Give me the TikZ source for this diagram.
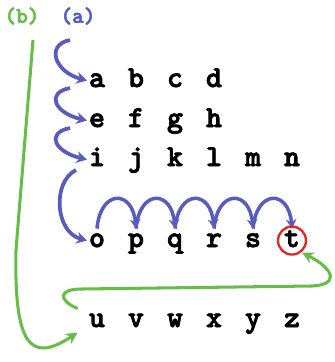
\documentclass[tikz,border=0pt]{standalone}
\usepackage{fontspec}
\setmonofont{lmmonolt10-regular.otf}[BoldFont=lmmonolt10-bold.otf, BoldFeatures={FakeBold=2.5}]
\usepackage{tikz}
\usetikzlibrary{arrows.meta}

\definecolor{hookblue}{RGB}{88,92,190}
\definecolor{pathgreen}{RGB}{102,190,70}
\definecolor{ringred}{RGB}{222,40,40}

\tikzset{
	letter/.style={anchor=base, inner sep=1.5pt, text height=14pt, text depth=3pt,
		font=\ttfamily\bfseries\fontsize{26}{28}\selectfont},
	tag/.style={font=\ttfamily\bfseries\fontsize{19}{21}\selectfont},
	hook/.style={hookblue, line width=3.2pt, -{Stealth[length=9pt,width=10pt]}},
	hop/.style={hookblue, line width=3pt, -{Stealth[length=8pt,width=9pt]}},
	walk/.style={pathgreen, line width=2.6pt, -{Stealth[length=10pt,width=10pt]}},
	ring/.style={ringred, line width=2pt}
}

\begin{document}
\begin{tikzpicture}[x=0.03cm, y=-0.03cm]
		\useasboundingbox (0, 0) rectangle (334, 362);

		\node[tag, pathgreen] (lb) at (22, 16) {(b)};
		\node[tag, hookblue] (la) at (78, 16) {(a)};

		\foreach \l [count=\i from 0] in {a, b, c, d} {
			\node[letter] (\l) at (97 + 39*\i, 87) {\l};
		}
		\foreach \l [count=\i from 0] in {e, f, g, h} {
			\node[letter] (\l) at (97 + 39*\i, 127) {\l};
		}
		\foreach \l [count=\i from 0] in {i, j, k, l, m, n} {
			\node[letter] (\l) at (97 + 39*\i, 166) {\l};
		}
		\foreach \l [count=\i from 0] in {o, p, q, r, s, t} {
			\node[letter] (\l) at (97 + 39*\i, 247) {\l};
		}
		\foreach \l [count=\i from 0] in {u, v, w, x, y, z} {
			\node[letter] (\l) at (97 + 39*\i, 327) {\l};
		}

		% (a) hooks down the left side
		\coordinate (h1) at (70, 40);
		\coordinate (h2) at (70, 88);
		\coordinate (h3) at (70, 128);
		\coordinate (h4) at (76, 170);
		\draw [hook] (h1) .. controls (45, 45) and (55, 72) .. (a.west);
		\draw [hook] (h2) .. controls (45, 93) and (55, 113) .. (e.west);
		\draw [hook] (h3) .. controls (45, 133) and (55, 152) .. (i.west);
		\draw [hook] (h4) .. controls (52, 182) and (55, 232) .. (o.west);

		% hops along the row
		\foreach \s/\e in {o/p, p/q, q/r, r/s, s/t} {
			\draw [hop] (\s.north) to [out=85, in=95, looseness=2.6] (\e.north);
		}
		\draw [ring] (t.center) circle [radius=14];

		% (b) walk
		\coordinate (g1) at (33, 40);
		\coordinate (g2) at (16, 250);
		\draw [walk] (g1) -- (g2) .. controls (14, 345) and (30, 364) .. ([xshift=-8pt]u.south west);
		\draw [walk] ([xshift=-8pt]u.north west) .. controls (58, 300) and (58, 289) .. (82, 289)
			-- (312, 286) .. controls (338, 285) and (336, 270) .. (t.south east);
	\end{tikzpicture}
\end{document}
